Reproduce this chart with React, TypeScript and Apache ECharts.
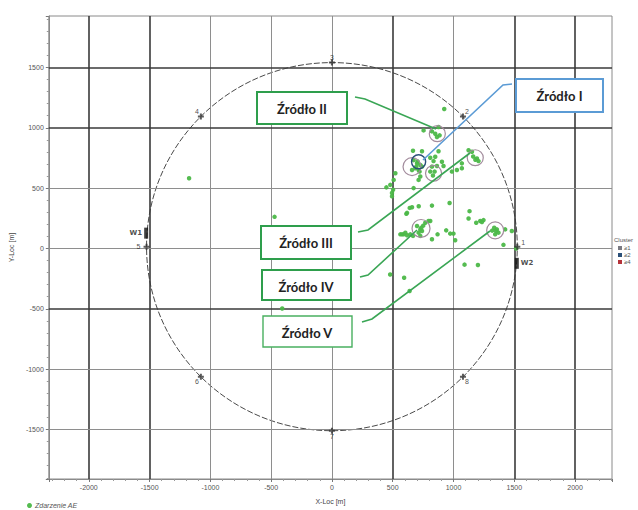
import React, { useEffect, useRef } from "react";
import * as echarts from "echarts";

// ---- data ----
const aeX = [
  924, 754, 823, 877, 850, 864, 886, 667, 741, 877, 809, 850, 836, 905, 918, 864, 823, 845, 809, 831,
  672, 700, 727, 686, 713, 741, 659, 721, 694, 705,
  713, 727, 672, 522, 508, 503, 494, 448, 494, 480,
  1124, 1152, 1193, 1206, 1162, 1180, 1069, 1028, 987, 1069,
  640, 714, 823, 968, 612, 809, 618, 659,
  700, 727, 713, 741, 751, 735,
  577, 590, 618, 645, 667, 727, 823, 869, 940, 973, 1000, 1014, 604, 563, 768, 795,
  1132, 1124, 1187, 1220, 1247, 1234,
  1335, 1357, 1370, 1343, 1318, 1350,
  1425, 1480, 1411, 1515,
  1091, 1201, 479, 594, 639,
  -1175, -472, -409,
];
const aeY = [
  1156, 978, 970, 1006, 951, 924, 937, 809, 806, 806, 752, 760, 724, 719, 683, 683, 678, 637, 637, 604,
  732, 705, 691, 664, 650, 678, 650, 637, 678, 720,
  568, 596, 500, 623, 568, 486, 459, 506, 432, 527,
  814, 801, 746, 724, 762, 735, 664, 650, 637, 705,
  336, 350, 355, 377, 287, 227, 295, 342,
  186, 158, 131, 145, 189, 172,
  117, 117, 109, 117, 104, 104, 76, 117, 150, 123, 123, 68, 131, 117, 213, 227,
  309, 248, 213, 227, 235, 219,
  172, 158, 131, 117, 148, 145,
  158, 145, 30, 0,
  -134, -137, -216, -243, -352,
  582, 262, -497,
];

const sensorNames = ["1", "2", "3", "4", "5", "6", "7", "8"];
const sensorX = [1525, 1078, 0, -1078, -1525, -1078, 0, 1078];
const sensorY = [15, 1093, 1540, 1093, 15, -1063, -1510, -1063];

const ringCenterX = 0;
const ringCenterY = 15;
const ringRadius = 1525;

// cluster rings (source I ring first)
const sourceRingX = [713];
const sourceRingY = [719];
const sourceRingR = [58];
const clusterRingX = [867, 659, 836, 1179, 733, 1343];
const clusterRingY = [951, 678, 623, 752, 166, 150];
const clusterRingR = [66, 74, 66, 66, 74, 70];

const wellNames = ["W1", "W2"];
const wellX = [-1528, 1521];
const wellY = [127, -123];

const xTickValues = [-2000, -1500, -1000, -500, 0, 500, 1000, 1500, 2000];
const yTickValues = [-1500, -1000, -500, 0, 500, 1000, 1500];
const xDarkLines = [-2000, -1500, 500, 1500, 2000];
const yDarkLines = [1500, 1000, -500];

const sourceLabels = ["Źródło I", "Źródło II", "Źródło III", "Źródło IV", "Źródło V"];
const clusterLegendTitle = "Cluster";
const clusterLegendLabels = ["≥1", "≥2", "≥4"];
const aeSeriesName = "Zdarzenie AE";
const xAxisTitle = "X-Loc [m]";
const yAxisTitle = "Y-Loc [m]";

// ---- layout / styles ----
const GREEN = "#4cb848";
const BOX_GREEN = "#2e9e4c";
const BOX_BLUE = "#5b9bd5";
const RING_COLOR = "#a28b9c";
const SANS = "'Liberation Sans', Arial, sans-serif";

const sensorLabelOffsets: [number, number][] = [
  [6, -4], [4, -5], [0, -5], [-4, -5], [-8, 0], [-4, 5], [0, 6], [4, 5],
];

export default function App() {
  const ref = useRef<HTMLDivElement>(null);
  useEffect(() => {
    if (!ref.current) return;
    const chart = echarts.init(ref.current, undefined, { renderer: "svg" });

    const gridLineData: any[] = [
      ...xTickValues.map((v) => ({
        xAxis: v,
        lineStyle: {
          color: xDarkLines.includes(v) ? "#3a3a3a" : "#8e8e8e",
          width: xDarkLines.includes(v) ? 1.6 : 1,
          type: "solid",
        },
      })),
      ...yTickValues.map((v) => ({
        yAxis: v,
        lineStyle: {
          color: yDarkLines.includes(v) ? "#3a3a3a" : "#8e8e8e",
          width: yDarkLines.includes(v) ? 1.6 : 1,
          type: "solid",
        },
      })),
    ];

    const ringItem = (color: string, width: number) => (params: any, api: any) => {
      const c = api.coord([api.value(0), api.value(1)]);
      const s = api.size([api.value(2), api.value(2)]);
      return {
        type: "ellipse",
        shape: { cx: c[0], cy: c[1], rx: s[0], ry: s[1] },
        style: { fill: "none", stroke: color, lineWidth: width },
      };
    };

    const textEl = (text: string, x: number, y: number, font: string, fill: string, align = "center") => ({
      type: "text",
      x,
      y,
      z: 110,
      style: {
        text,
        font,
        fill,
        align,
        verticalAlign: "middle",
        textAlign: align,
        textVerticalAlign: "middle",
      },
    });

    const box = (x: number, y: number, w: number, h: number, stroke: string, lw: number) => ({
      type: "rect",
      z: 105,
      shape: { x, y, width: w, height: h },
      style: { fill: "#ffffff", stroke, lineWidth: lw },
    });

    const leader = (pts: number[][], stroke: string) => ({
      type: "polyline",
      z: 100,
      shape: { points: pts },
      style: { stroke, lineWidth: 1.6, fill: null },
    });

    const boxFont = "bold 13px Lato, 'Open Sans', sans-serif";
    const smallFont = `6px ${SANS}`;

    const option: any = {
      animation: false,
      backgroundColor: "#ffffff",
      grid: {
        left: 48,
        right: 26,
        top: 16,
        bottom: 26,
        show: true,
        borderColor: "#8a8a8a",
        borderWidth: 1,
        backgroundColor: "#ffffff",
      },
      legend: {
        data: [aeSeriesName],
        left: 27,
        top: 502,
        padding: 0,
        icon: "circle",
        itemWidth: 5,
        itemHeight: 5,
        itemGap: 4,
        textStyle: {
          fontSize: 7,
          fontStyle: "italic",
          color: "#555",
          fontFamily: SANS,
          padding: [0, 0, 0, -2],
        },
      },
      xAxis: {
        type: "value",
        min: -2329,
        max: 2304,
        minInterval: 500,
        maxInterval: 500,
        name: xAxisTitle,
        nameLocation: "middle",
        nameGap: 19,
        nameTextStyle: { fontSize: 7, color: "#444", fontFamily: SANS },
        axisLine: { show: true, onZero: false, lineStyle: { color: "#8a8a8a" } },
        axisTick: { show: true, length: 3, lineStyle: { color: "#777" } },
        minorTick: { show: true, splitNumber: 5, length: 2, lineStyle: { color: "#999" } },
        splitLine: { show: false },
        axisLabel: {
          fontSize: 7,
          color: "#555",
          margin: 5,
          showMinLabel: false,
          showMaxLabel: false,
          fontFamily: SANS,
          formatter: (v: number) => (xTickValues.includes(v) ? String(v) : ""),
        },
      },
      yAxis: {
        type: "value",
        min: -1910,
        max: 1926,
        minInterval: 500,
        maxInterval: 500,
        name: yAxisTitle,
        nameLocation: "middle",
        nameGap: 27,
        nameRotate: 90,
        nameTextStyle: { fontSize: 7, color: "#444", fontFamily: SANS },
        axisLine: { show: true, onZero: false, lineStyle: { color: "#8a8a8a" } },
        axisTick: { show: true, length: 3, lineStyle: { color: "#777" } },
        minorTick: { show: true, splitNumber: 5, length: 2, lineStyle: { color: "#999" } },
        splitLine: { show: false },
        axisLabel: {
          fontSize: 7,
          color: "#555",
          margin: 5,
          showMinLabel: false,
          showMaxLabel: false,
          fontFamily: SANS,
          formatter: (v: number) => (yTickValues.includes(v) ? String(v) : ""),
        },
      },
      series: [
        {
          name: "grid",
          type: "scatter",
          data: [],
          silent: true,
          z: 1,
          markLine: {
            silent: true,
            symbol: "none",
            label: { show: false },
            data: gridLineData,
          },
        },
        {
          name: "ring",
          type: "custom",
          silent: true,
          z: 3,
          renderItem: (params: any, api: any) => {
            const c = api.coord([api.value(0), api.value(1)]);
            const s = api.size([api.value(2), api.value(2)]);
            return {
              type: "ellipse",
              shape: { cx: c[0], cy: c[1], rx: s[0], ry: s[1] },
              style: { fill: "none", stroke: "#4a4a4a", lineWidth: 1, lineDash: [6, 2] },
            };
          },
          data: [[ringCenterX, ringCenterY, ringRadius]],
        },
        {
          name: aeSeriesName,
          type: "scatter",
          z: 5,
          symbol: "circle",
          symbolSize: 4.5,
          itemStyle: { color: GREEN, opacity: 0.95 },
          data: aeX.map((x, i) => [x, aeY[i]]),
        },
        {
          name: "clusterRings",
          type: "custom",
          silent: true,
          z: 6,
          renderItem: ringItem(RING_COLOR, 1.2),
          data: clusterRingX.map((x, i) => [x, clusterRingY[i], clusterRingR[i]]),
        },
        {
          name: "sourceRing",
          type: "custom",
          silent: true,
          z: 7,
          renderItem: ringItem("#2a4f78", 1.4),
          data: sourceRingX.map((x, i) => [x, sourceRingY[i], sourceRingR[i]]),
        },
        {
          name: "sensors",
          type: "scatter",
          z: 8,
          silent: true,
          symbol: "path://M1,0h1v3h-1z M0,1h3v1h-3z",
          symbolSize: 6,
          itemStyle: { color: "#333" },
          label: {
            show: true,
            position: "inside",
            formatter: (p: any) => p.name,
            fontSize: 7,
            color: "#222",
            textBorderWidth: 0,
            fontFamily: SANS,
          },
          data: sensorNames.map((n, i) => ({
            name: n,
            value: [sensorX[i], sensorY[i]],
            label: { offset: sensorLabelOffsets[i], color: "#222" },
          })),
        },
        {
          name: "wells",
          type: "scatter",
          z: 9,
          silent: true,
          symbol: "rect",
          symbolSize: [4, 11],
          itemStyle: { color: "#111" },
          label: {
            show: true,
            formatter: (p: any) => p.name,
            fontSize: 7,
            fontWeight: "bold",
            color: "#222",
            fontFamily: "'DejaVu Sans', sans-serif",
          },
          data: wellNames.map((n, i) => ({
            name: n,
            value: [wellX[i], wellY[i]],
            label: { position: i === 0 ? "left" : "right", distance: 2 },
          })),
        },
      ],
      graphic: [
        // leader lines
        leader([[355, 97], [365, 99], [436, 129]], "#3aa655"),
        leader([[512, 84], [503, 85], [423, 160]], "#5b9bd5"),
        leader([[358, 232], [368, 230], [470, 153]], "#3aa655"),
        leader([[360, 277], [368, 275], [417, 230]], "#3aa655"),
        leader([[362, 322], [372, 319], [490, 231]], "#3aa655"),
        // boxes
        box(516, 79, 87, 33, BOX_BLUE, 2),
        textEl(sourceLabels[0], 559.5, 96, boxFont, "#222"),
        box(257, 92, 90, 32, BOX_GREEN, 2),
        textEl(sourceLabels[1], 302, 109, boxFont, "#222"),
        box(261, 226, 90, 33, BOX_GREEN, 2),
        textEl(sourceLabels[2], 306, 243, boxFont, "#222"),
        box(262, 270, 89, 30, BOX_GREEN, 2),
        textEl(sourceLabels[3], 306, 287, boxFont, "#222"),
        box(263, 316, 89, 31, "#49b060", 1.4),
        textEl(sourceLabels[4], 307, 333, boxFont, "#222"),
        // cluster legend (cut off at right edge)
        textEl(clusterLegendTitle, 614, 240, smallFont, "#555", "left"),
        { type: "rect", z: 110, shape: { x: 618, y: 246, width: 4, height: 4 }, style: { fill: "#7a7a82" } },
        textEl(clusterLegendLabels[0], 624, 248, smallFont, "#555", "left"),
        { type: "rect", z: 110, shape: { x: 618, y: 253, width: 4, height: 4 }, style: { fill: "#2a4f78" } },
        textEl(clusterLegendLabels[1], 624, 255, smallFont, "#555", "left"),
        { type: "rect", z: 110, shape: { x: 618, y: 260, width: 4, height: 4 }, style: { fill: "#b5323a" } },
        textEl(clusterLegendLabels[2], 624, 262, smallFont, "#555", "left"),
      ],
    };

    chart.setOption(option);
    return () => chart.dispose();
  }, []);

  return (
    <div
      ref={ref}
      style={{ position: "absolute", left: 0, top: 0, width: 638, height: 510, background: "#fff" }}
    />
  );
}
